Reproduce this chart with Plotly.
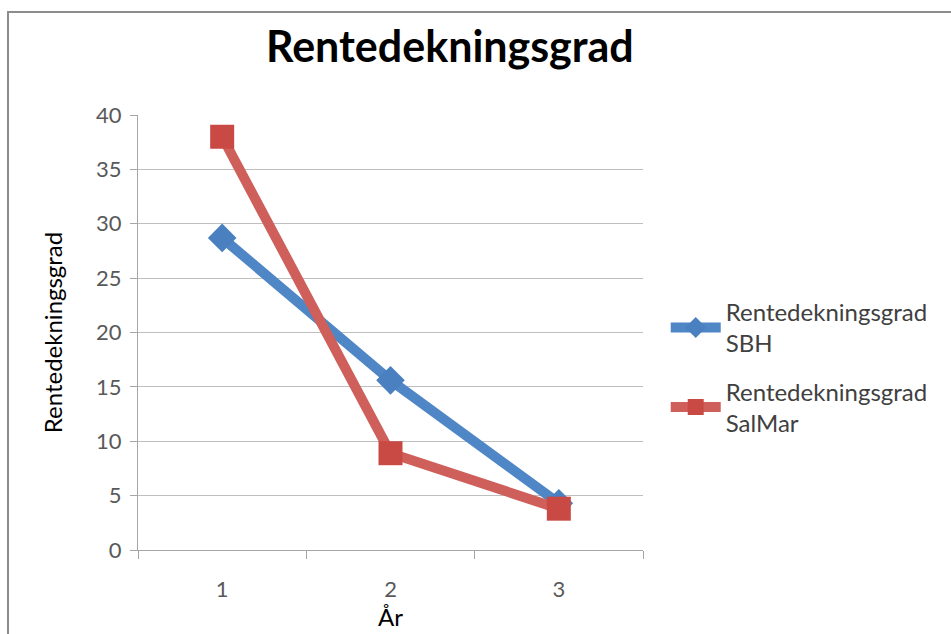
import plotly.graph_objects as go

years = ["1", "2", "3"]
sbh = [28.7, 15.6, 4.3]
salmar = [38.0, 8.9, 3.8]
y_ticks = [0, 5, 10, 15, 20, 25, 30, 35, 40]

FONT = "Lato"

fig = go.Figure()
fig.add_trace(go.Scatter(
    x=years, y=sbh, mode="lines+markers",
    name="Rentedekningsgrad<br>SBH", legendgroup="sbh",
    line=dict(color="#4F86C6", width=10),
    marker=dict(symbol="diamond", size=22, color="#4A7FC0"),
))
fig.add_trace(go.Scatter(
    x=years, y=salmar, mode="lines+markers",
    name="Rentedekningsgrad<br>SalMar", legendgroup="salmar",
    line=dict(color="#CF5F5A", width=10),
    marker=dict(symbol="square", size=24, color="#C94A44"),
))

fig.update_layout(
    width=951, height=634,
    margin=dict(l=138, r=308, t=115, b=84),
    paper_bgcolor="white", plot_bgcolor="white",
    font=dict(family=FONT, color="#404040"),
    title=dict(text="<b>Rentedekningsgrad</b>", x=0.473, xanchor="center",
               y=0.926, yanchor="middle",
               font=dict(family=FONT, size=43, color="black")),
    showlegend=True,
    legend=dict(x=1.045, y=0.42, xanchor="left", yanchor="middle",
                font=dict(family=FONT, size=24, color="#404040"),
                tracegroupgap=14, itemwidth=50),
    xaxis=dict(
        type="category", range=[-0.5, 2.5], tickson="boundaries",
        ticks="outside", ticklen=8, ticklabelstandoff=20,
        tickcolor="#A6A6A6", showgrid=False, showline=True, linecolor="#A6A6A6",
        linewidth=1, tickfont=dict(size=22, color="#595959"),
        title=dict(text="År", font=dict(size=24, color="black"), standoff=0),
    ),
    yaxis=dict(
        range=[0, 40], tickvals=y_ticks, ticks="outside", ticklen=7,
        ticklabelstandoff=4,
        tickcolor="#A6A6A6", showgrid=True, gridcolor="#BFBFBF", gridwidth=1,
        showline=True, linecolor="#A6A6A6", zeroline=False,
        tickfont=dict(size=22, color="#595959"),
        title=dict(text="Rentedekningsgrad", font=dict(size=24, color="black"),
                   standoff=26),
    ),
)

# chart frame border
fig.add_shape(type="rect", xref="paper", yref="paper",
              x0=-0.2574, x1=1.8, y0=-0.4, y1=1.2368,
              line=dict(color="#8C8C8C", width=2), layer="below")

fig.write_html("out.html")
